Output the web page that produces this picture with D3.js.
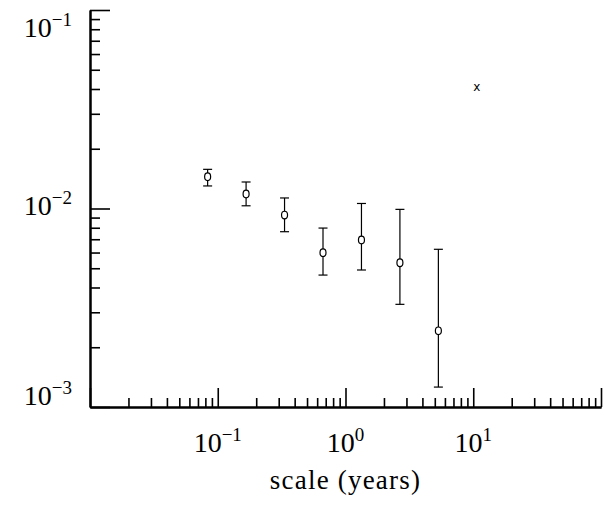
<!DOCTYPE html>
<html>
<head>
<meta charset="utf-8">
<script src="https://cdn.jsdelivr.net/npm/d3@7"></script>
<style>
  html, body { margin: 0; padding: 0; background: #fff; }
  svg { display: block; }
  .tick-label, .axis-title { font-family: "Liberation Serif", "Times New Roman", serif; fill: #000; }
</style>
</head>
<body>
<div id="chart"></div>
<script>
// ---------------------------------------------------------------------------
// Log-log scatter with error bars: variance vs time scale
// ---------------------------------------------------------------------------

const SCALES = [1 / 12, 1 / 6, 1 / 3, 2 / 3, 4 / 3, 8 / 3, 16 / 3];
const VALUES = [0.01445, 0.01183, 0.00927, 0.00599, 0.00694, 0.00533, 0.00242];
const LOWER  = [0.01299, 0.01032, 0.00764, 0.00462, 0.00490, 0.00329, 0.00126];
const UPPER  = [0.01575, 0.01360, 0.01130, 0.00797, 0.01060, 0.00990, 0.00623];

const OUTLIER_SCALE = [32 / 3];
const OUTLIER_VALUE = [0.0411];

const X_DOMAIN = [0.01, 100];
const Y_DOMAIN = [0.001, 0.1];
const X_LABEL_EXP = [-1, 0, 1];
const Y_LABEL_EXP = [-1, -2, -3];
const X_TITLE = "scale (years)";

const W = 605, H = 507;
const MARGIN = { top: 10, right: 4, bottom: 100, left: 90 };

const svg = d3.select("#chart").append("svg")
  .attr("width", W).attr("height", H)
  .attr("viewBox", `0 0 ${W} ${H}`);

const x = d3.scaleLog().domain(X_DOMAIN).range([MARGIN.left, W - MARGIN.right]);
const y = d3.scaleLog().domain(Y_DOMAIN).range([H - MARGIN.bottom, MARGIN.top]);

const x0 = MARGIN.left, y0 = H - MARGIN.bottom;

const isMajor = (v) => Math.abs(Math.log10(v) - Math.round(Math.log10(v))) < 1e-9;

// minor ticks (short), major ticks (long), all pointing into the plot
function styleAxis(sel) {
  sel.selectAll("text").remove();
  sel.select(".domain").attr("stroke", "#000").attr("stroke-width", 2);
  sel.selectAll(".tick line").attr("stroke", "#000").attr("stroke-width", 1.6);
}

svg.append("g")
  .attr("transform", `translate(${x0},0)`)
  .call(d3.axisLeft(y).tickValues(y.ticks().filter((v) => !isMajor(v))).tickSize(-10).tickSizeOuter(0))
  .call(styleAxis);
svg.append("g")
  .attr("transform", `translate(${x0},0)`)
  .call(d3.axisLeft(y).tickValues(y.ticks().filter(isMajor)).tickSize(-20).tickSizeOuter(0))
  .call(styleAxis);

svg.append("g")
  .attr("transform", `translate(0,${y0})`)
  .call(d3.axisBottom(x).tickValues(x.ticks().filter((v) => !isMajor(v))).tickSize(-9).tickSizeOuter(0))
  .call(styleAxis);
svg.append("g")
  .attr("transform", `translate(0,${y0})`)
  .call(d3.axisBottom(x).tickValues(x.ticks().filter(isMajor)).tickSize(-19).tickSizeOuter(0))
  .call(styleAxis);

// tick labels 10^n
function powLabel(g, e) {
  g.append("tspan").attr("font-size", 28).text("10");
  g.append("tspan").attr("font-size", 19).attr("dy", -11).text(e < 0 ? `\u2212${-e}` : `${e}`);
}

X_LABEL_EXP.forEach((e) => {
  svg.append("text").attr("class", "tick-label")
    .attr("x", x(Math.pow(10, e)))
    .attr("y", y0 + 45)
    .attr("text-anchor", "middle")
    .call(powLabel, e);
});

Y_LABEL_EXP.forEach((e) => {
  const ty = Math.min(Math.max(y(Math.pow(10, e)) + 6, MARGIN.top + 27), y0 - 2);
  svg.append("text").attr("class", "tick-label")
    .attr("x", x0 - 18)
    .attr("y", ty)
    .attr("text-anchor", "end")
    .call(powLabel, e);
});

svg.append("text").attr("class", "axis-title")
  .attr("x", x(1))
  .attr("y", y0 + 82)
  .attr("text-anchor", "middle")
  .attr("font-size", 27)
  .attr("letter-spacing", 1.2)
  .text(X_TITLE);

// error bars
const pts = SCALES.map((s, i) => ({ s, v: VALUES[i], lo: LOWER[i], hi: UPPER[i] }));
const CAP = 4.5;

const bars = svg.append("g").attr("stroke", "#000").attr("stroke-width", 1.2).attr("fill", "none");
bars.selectAll("line.stem").data(pts).join("line").attr("class", "stem")
  .attr("x1", (d) => x(d.s)).attr("x2", (d) => x(d.s))
  .attr("y1", (d) => y(d.lo)).attr("y2", (d) => y(d.hi));
bars.selectAll("line.cap-hi").data(pts).join("line").attr("class", "cap-hi")
  .attr("x1", (d) => x(d.s) - CAP).attr("x2", (d) => x(d.s) + CAP)
  .attr("y1", (d) => y(d.hi)).attr("y2", (d) => y(d.hi));
bars.selectAll("line.cap-lo").data(pts).join("line").attr("class", "cap-lo")
  .attr("x1", (d) => x(d.s) - CAP).attr("x2", (d) => x(d.s) + CAP)
  .attr("y1", (d) => y(d.lo)).attr("y2", (d) => y(d.lo));

// open markers
svg.append("g").selectAll("ellipse").data(pts).join("ellipse")
  .attr("cx", (d) => x(d.s)).attr("cy", (d) => y(d.v))
  .attr("rx", 3).attr("ry", 3.8)
  .attr("fill", "#fff").attr("stroke", "#000").attr("stroke-width", 1.2);

// cross marker
svg.append("g").selectAll("text").data(OUTLIER_SCALE.map((s, i) => ({ s, v: OUTLIER_VALUE[i] })))
  .join("text")
  .attr("x", (d) => x(d.s)).attr("y", (d) => y(d.v) + 4)
  .attr("text-anchor", "middle")
  .attr("font-family", "DejaVu Sans, sans-serif")
  .attr("font-size", 12)
  .text("x");
</script>
</body>
</html>
